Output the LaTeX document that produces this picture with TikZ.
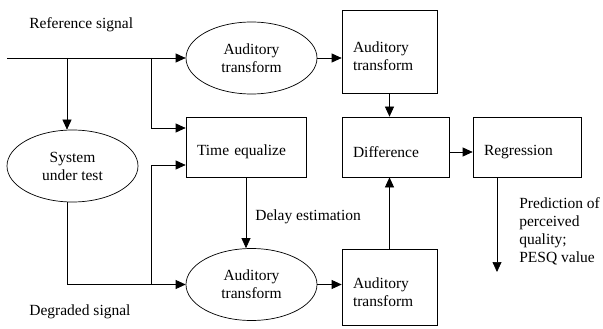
\documentclass[tikz,border=0pt]{standalone}
\usepackage{fontspec}
\setmainfont{Liberation Serif}
\usetikzlibrary{arrows.meta,shapes.geometric}

\tikzset{
  ell/.style={draw,ellipse,inner sep=0pt,align=center,minimum width=131pt,minimum height=72pt},
  blk/.style={draw,rectangle,inner xsep=11pt,inner ysep=0pt,align=left,
    execute at begin node={\rule{0pt}{21pt}}},
  lbl/.style={inner sep=0pt,anchor=west},
  arr/.style={-{Triangle[length=10pt,width=9pt]}}
}

\begin{document}
\begin{tikzpicture}[x=1pt,y=-1pt,line width=0.7pt,font=\fontsize{15.5}{18}\selectfont]
      \clip (0,0) rectangle (603,329);

      % ellipses
      \node[ell] (at1) at (251.5,58) {Auditory\\transform};
      \node[ell] (sut) at (72.5,166) {System\\under test};
      \node[ell] (at2) at (251.5,284.5) {Auditory\\transform};

      % boxes
      \node[blk,text width=73pt,minimum height=83pt] (bt1) at (389.5,51.5) {Auditory\\transform};
      \node[blk,text width=98pt,minimum height=60pt] (teq) at (246,147) {Time equalize};
      \node[blk,text width=85pt,minimum height=60pt] (diff) at (395.5,147) {Difference};
      \node[blk,text width=86pt,minimum height=60pt] (reg) at (527,147) {Regression};
      \node[blk,text width=73pt,minimum height=76pt] (bt2) at (389.5,287) {Auditory\\transform};

      % labels
      \node[lbl] (reflbl) at (29,25) {Reference signal};
      \node[lbl] (deglbl) at (29,312) {Degraded signal};
      \node[lbl] (dlylbl) at (255,217) {Delay estimation};
      \node[lbl,align=left] (predlbl) at (519,231) {Prediction of\\perceived\\quality;\\PESQ value};

      \coordinate (refin) at (7,58);
      \coordinate (tapa) at (67,58);
      \coordinate (tapb) at (151,58);
      \coordinate (tapc) at (151,284.5);
      \coordinate (outend) at (497,272);

      \draw[arr] (refin) -- (at1);
      \draw[arr] (tapa) -- (tapa |- sut.north);
      \draw[arr] (tapb) |- ([yshift=19pt]teq.west);
      \draw[arr] ([xshift=-5.5pt]sut.south) |- (at2.west);
      \draw[arr] (tapc) |- ([yshift=-18pt]teq.west);

      \draw[arr] (at1.east) -- (at1.east -| bt1.west);
      \draw[arr] (bt1.south) -- (bt1.south |- diff.north);
      \draw[arr] (teq.south) -- (teq.south |- at2.north);
      \draw[arr] (at2.east) -- (at2.east -| bt2.west);
      \draw[arr] (bt2.north) -- (bt2.north |- diff.south);
      \draw[arr] ([yshift=-5pt]diff.east) -- ([yshift=-5pt]diff.east -| reg.west);
      \draw[arr] ([xshift=-30pt]reg.south) -- (outend);

\end{tikzpicture}
\end{document}
